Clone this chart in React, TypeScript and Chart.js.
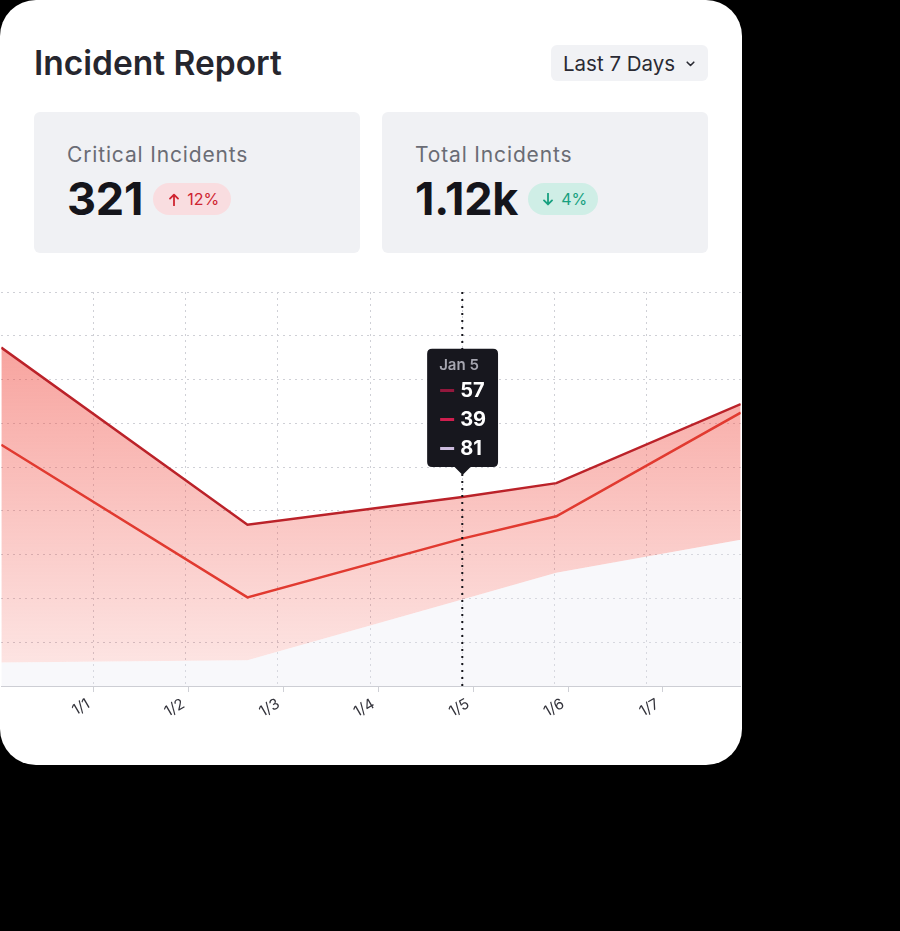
import React, { useEffect, useRef } from 'react';
import { Chart, registerables, Tooltip } from 'chart.js';

Chart.register(...registerables);

// ---------------- data ----------------
const pointDays = [0, 2.67, 5, 6.02, 8.02];
const lowValues = [22, 24, 81, 106, 137];
const highValues = [204, 59, 57, 53, 119];
const criticalValues = [91, 68, 39, 31, 8];
const seriesNames = ['Low', 'High', 'Critical'];
const tickDays = [1, 2, 3, 4, 5, 6, 7];
const tickLabels = ['1/1', '1/2', '1/3', '1/4', '1/5', '1/6', '1/7'];
const focusIndex = 2;
const tooltipSwatches = ['#cdbcdf', '#93183d', '#cf1f4f'];
const tooltipOrder = [1, 2, 0];
const yMax = 369;
const yStep = 41;

(Tooltip as any).positioners.topPoint = function (items: any[]) {
  if (!items.length) return false;
  let x = 0;
  let y = Infinity;
  for (const it of items) {
    x = it.element.x;
    y = Math.min(y, it.element.y);
  }
  return { x, y };
};

const pinkFill = (ctx: any) => {
  const chart = ctx.chart;
  const area = chart.chartArea;
  if (!area) return 'rgba(240,72,62,0.3)';
  const g = chart.ctx.createLinearGradient(0, area.top, 0, area.bottom);
  g.addColorStop(0, 'rgba(240,72,62,0.56)');
  g.addColorStop(1, 'rgba(240,72,62,0.12)');
  return g;
};

const toPts = (vals: number[]) => vals.map((y, i) => ({ x: pointDays[i], y }));

function IncidentChart() {
  const ref = useRef<HTMLCanvasElement>(null);
  useEffect(() => {
    if (!ref.current) return;
    const chart = new Chart(ref.current, {
      type: 'line',
      data: {
        datasets: [
          {
            label: seriesNames[0],
            data: toPts(lowValues),
            borderColor: 'transparent',
            borderWidth: 0,
            backgroundColor: 'rgba(232,233,242,0.32)',
            fill: 'origin',
            pointRadius: 0,
            pointHoverRadius: 0,
          },
          {
            label: seriesNames[1],
            data: toPts(highValues),
            borderColor: '#e13a30',
            borderWidth: 2.5,
            backgroundColor: pinkFill,
            fill: '-1',
            pointRadius: 0,
            pointHoverRadius: 0,
          },
          {
            label: seriesNames[2],
            data: toPts(criticalValues),
            borderColor: '#bb2229',
            borderWidth: 2.5,
            backgroundColor: pinkFill,
            fill: '-1',
            pointRadius: 0,
            pointHoverRadius: 0,
          },
          {
            label: 'cursor',
            data: [
              { x: pointDays[focusIndex], y: 0 },
              { x: pointDays[focusIndex], y: yMax },
            ],
            stack: 'cursor',
            borderColor: '#15151b',
            borderWidth: 2,
            borderDash: [2, 5],
            pointRadius: 0,
            pointHoverRadius: 0,
            fill: false,
            order: -1,
          } as any,
        ],
      },
      options: {
        responsive: false,
        maintainAspectRatio: false,
        animation: false,
        events: [],
        layout: { padding: { top: 12, left: 0, right: 0, bottom: 0 } },
        plugins: {
          legend: { display: false },
          tooltip: {
            enabled: true,
            position: 'topPoint' as any,
            xAlign: 'center',
            yAlign: 'bottom',
            backgroundColor: '#17171e',
            cornerRadius: 5,
            caretSize: 8,
            caretPadding: 22,
            padding: { top: 8, bottom: 7, left: 12, right: 12 },
            titleFont: { family: 'Inter', size: 15, weight: '600', lineHeight: 1.15 } as any,
            titleColor: '#a6a6b0',
            titleMarginBottom: 5,
            bodyFont: { family: 'Inter', size: 20, weight: '700', lineHeight: 1.15 } as any,
            bodyColor: '#ffffff',
            bodySpacing: 6,
            displayColors: true,
            boxWidth: 16,
            boxHeight: 5,
            boxPadding: 3,
            multiKeyBackground: 'transparent',
            filter: (item: any) => item.datasetIndex < 3,
            itemSort: (a: any, b: any) =>
              tooltipOrder.indexOf(a.datasetIndex) - tooltipOrder.indexOf(b.datasetIndex),
            callbacks: {
              title: (items: any[]) => `Jan ${Math.round(items[0].parsed.x)}`,
              label: (item: any) => String(item.raw.y),
              labelColor: (item: any) => ({
                borderColor: 'transparent',
                backgroundColor: tooltipSwatches[item.datasetIndex],
                borderWidth: 0,
              }) as any,
            },
          },
        },
        scales: {
          x: {
            type: 'linear',
            min: 0,
            max: 8.02,
            afterBuildTicks: (s: any) => {
              s.ticks = tickDays.map((v) => ({ value: v }));
            },
            ticks: { display: false },
            grid: { color: '#cfd0d6', drawTicks: false },
            border: { display: true, color: '#cdced4', dash: [2, 4] } as any,
            afterFit: (s: any) => {
              s.height = 0;
            },
          },
          x2: {
            type: 'linear',
            position: 'bottom',
            min: 0.0263,
            max: 7.82,
            afterBuildTicks: (s: any) => {
              s.ticks = tickDays.map((v) => ({ value: v }));
            },
            ticks: {
              autoSkip: false,
              minRotation: 30,
              maxRotation: 30,
              padding: 3,
              labelOffset: -5,
              color: '#33333b',
              font: { family: 'Inter', size: 15 },
              callback: (v: any) => {
                const i = tickDays.indexOf(Number(v));
                return i >= 0 ? tickLabels[i] : '';
              },
            },
            grid: { drawOnChartArea: false, drawTicks: true, tickLength: 6, color: '#cfd0d6' },
            border: { display: false },
            afterFit: (s: any) => {
              s.height = 50;
            },
          },
          y: {
            stacked: true,
            min: 0,
            max: yMax,
            ticks: { display: false, stepSize: yStep },
            grid: { color: '#cfd0d6', drawTicks: false },
            border: { display: false, dash: [2, 4] } as any,
            afterFit: (s: any) => {
              s.width = 0;
            },
          },
        } as any,
      },
    });
    chart.tooltip!.setActiveElements(
      [0, 1, 2].map((i) => ({ datasetIndex: i, index: focusIndex })),
      { x: 0, y: 0 }
    );
    chart.update();
    return () => chart.destroy();
  }, []);
  return (
    <canvas
      ref={ref}
      width={742}
      height={456}
      style={{ position: 'absolute', left: 0, top: 280, width: 742, height: 456, display: 'block' }}
    />
  );
}

function ArrowUp({ color }: { color: string }) {
  return (
    <svg width="10" height="13" viewBox="0 0 10 13" style={{ display: 'block' }}>
      <path d="M5 12.5 V1.6 M1 5.6 L5 1.6 L9 5.6" fill="none" stroke={color} strokeWidth="1.8" strokeLinecap="round" strokeLinejoin="round" />
    </svg>
  );
}

function ArrowDown({ color }: { color: string }) {
  return (
    <svg width="10" height="13" viewBox="0 0 10 13" style={{ display: 'block' }}>
      <path d="M5 0.5 V11.4 M1 7.4 L5 11.4 L9 7.4" fill="none" stroke={color} strokeWidth="1.8" strokeLinecap="round" strokeLinejoin="round" />
    </svg>
  );
}

function StatCard(props: {
  left: number;
  label: string;
  value: string;
  change: string;
  up: boolean;
}) {
  const color = props.up ? '#cf2430' : '#17a07f';
  const bg = props.up ? '#f9dde0' : '#cfeee6';
  return (
    <div
      style={{
        position: 'absolute',
        left: props.left,
        top: 112,
        width: 326,
        height: 141,
        background: '#f0f1f4',
        borderRadius: 6,
      }}
    >
      <div
        style={{
          position: 'absolute',
          left: 33,
          top: 30,
          fontSize: 21,
          lineHeight: '26px',
          letterSpacing: 0.85,
          color: '#6a6c74',
          whiteSpace: 'nowrap',
        }}
      >
        {props.label}
      </div>
      <div
        style={{
          position: 'absolute',
          left: 33,
          top: 62,
          height: 50,
          display: 'flex',
          alignItems: 'center',
          gap: 10,
        }}
      >
        <div style={{ fontSize: 45, fontWeight: 700, lineHeight: '50px', color: '#15151b', letterSpacing: -0.2 }}>
          {props.value}
        </div>
        <div
          style={{
            height: 32,
            borderRadius: 16,
            background: bg,
            display: 'flex',
            alignItems: 'center',
            padding: props.up ? '0 12px 0 16px' : '0 11px 0 15px',
            gap: 8,
            fontSize: 16,
            color,
          }}
        >
          {props.up ? <ArrowUp color={color} /> : <ArrowDown color={color} />}
          <span>{props.change}</span>
        </div>
      </div>
    </div>
  );
}

export default function App() {
  return (
    <div
      style={{
        position: 'fixed',
        left: 0,
        top: 0,
        width: 900,
        height: 931,
        background: '#000',
        fontFamily: 'Inter, "Noto Sans", sans-serif',
      }}
    >
      <div
        style={{
          position: 'absolute',
          left: 0,
          top: 0,
          width: 742,
          height: 765,
          background: '#fff',
          borderRadius: 36,
          overflow: 'hidden',
        }}
      >
        <div
          style={{
            position: 'absolute',
            left: 34,
            top: 41,
            fontSize: 33.5,
            fontWeight: 600,
            lineHeight: '44px',
            color: '#26262e',
            whiteSpace: 'nowrap',
          }}
        >
          Incident Report
        </div>
        <div
          style={{
            position: 'absolute',
            left: 551,
            top: 45,
            width: 157,
            height: 36,
            background: '#f1f2f5',
            borderRadius: 6,
            display: 'flex',
            alignItems: 'center',
            paddingLeft: 12,
            boxSizing: 'border-box',
            fontSize: 20.5,
            color: '#2a2a33',
            whiteSpace: 'nowrap',
          }}
        >
          Last 7 Days
          <svg
            width="9"
            height="6"
            viewBox="0 0 9 6"
            style={{ position: 'absolute', left: 135, top: 16 }}
          >
            <path d="M1.2 1.2 L4.5 4.5 L7.8 1.2" fill="none" stroke="#2a2a33" strokeWidth="1.6" strokeLinecap="round" strokeLinejoin="round" />
          </svg>
        </div>
        <StatCard left={34} label="Critical Incidents" value="321" change="12%" up={true} />
        <StatCard left={382} label="Total Incidents" value="1.12k" change="4%" up={false} />
        <IncidentChart />
      </div>
    </div>
  );
}
